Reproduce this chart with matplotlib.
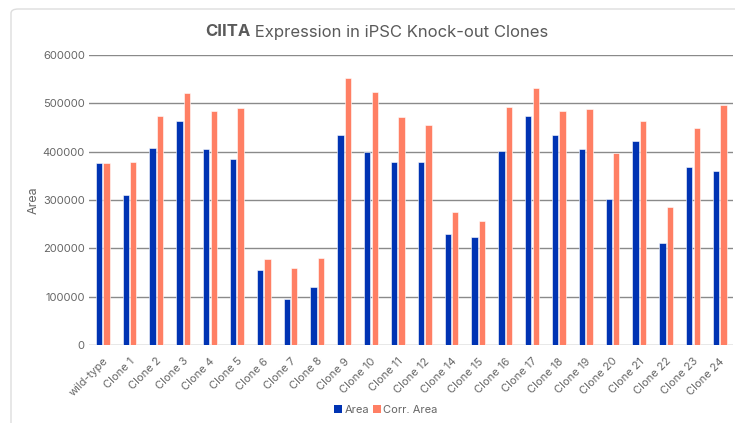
"""
CIITA expression in iPSC knock-out clones: Area vs Corr. Area per clone.
"""

import matplotlib.pyplot as plt
import numpy as np
from matplotlib.patches import FancyBboxPatch, Patch

plt.rcParams["font.family"] = ["Inter", "DejaVu Sans"]

CLONES = [
    "wild-type", "Clone 1", "Clone 2", "Clone 3", "Clone 4", "Clone 5",
    "Clone 6", "Clone 7", "Clone 8", "Clone 9", "Clone 10", "Clone 11",
    "Clone 12", "Clone 14", "Clone 15", "Clone 16", "Clone 17", "Clone 18",
    "Clone 19", "Clone 20", "Clone 21", "Clone 22", "Clone 23", "Clone 24",
]
AREA = [
    376400, 311000, 407300, 463800, 404600, 384600,
    155500, 94300, 120400, 433500, 399800, 379100,
    377700, 230500, 222900, 401800, 473400, 435500,
    404600, 302100, 422500, 210500, 368100, 359200,
]
CORR_AREA = [
    376400, 379100, 474800, 520900, 484400, 489900,
    178900, 160300, 181000, 551800, 522900, 471300,
    454800, 275900, 256000, 491900, 531200, 483700,
    488500, 397700, 463800, 285500, 449300, 497500,
]
Y_TICKS = [0, 100000, 200000, 300000, 400000, 500000, 600000]

BLUE = "#0033b3"
SALMON = "#ff7f64"
TEXT = "#666666"


def main() -> None:
    W, H = 735, 423
    fig = plt.figure(figsize=(W / 100, H / 100), dpi=100)

    # card outline (top-left corner visible, rest runs off the image)
    card = FancyBboxPatch((11 / W, -20 / H), (W + 20 - 11) / W, (H + 20 - 9) / H,
                          boxstyle="round,pad=0,rounding_size=0.01",
                          transform=fig.transFigure, facecolor="white",
                          edgecolor="#dddddd", linewidth=1.0, zorder=-10)
    fig.patches.append(card)

    ax = fig.add_axes([89 / W, 1 - 345 / H, (733 - 89) / W, (345 - 55) / H])
    x = np.arange(len(CLONES))
    w = 0.235
    ax.bar(x - 0.13, AREA, width=w, color=BLUE, edgecolor="white",
           linewidth=0.4, zorder=3, label="Area")
    ax.bar(x + 0.15, CORR_AREA, width=w, color=SALMON, edgecolor="white",
           linewidth=0.4, zorder=3, label="Corr. Area")

    ax.set_xlim(-0.5, len(CLONES) - 0.5)
    ax.set_ylim(0, 600000)
    ax.set_yticks(Y_TICKS)
    ax.set_yticklabels([str(v) for v in Y_TICKS])
    ax.set_xticks(x)
    ax.set_xticklabels(CLONES, rotation=45, ha="right", rotation_mode="anchor")
    ax.tick_params(axis="both", length=0, colors=TEXT, labelsize=8)
    ax.tick_params(axis="y", pad=3)
    ax.tick_params(axis="x", pad=8)
    ax.grid(axis="y", color="#8a8a8a", linewidth=1.0, zorder=0)
    for s in ax.spines.values():
        s.set_visible(False)
    ax.set_ylabel("Area", color=TEXT, fontsize=9, labelpad=2)

    # title: bold gene name followed by regular text
    t1 = fig.text(205 / W, 1 - 32 / H, "CIITA", fontsize=12,
                  fontweight="bold", color="#5a5a5a", ha="left", va="center")
    ax.annotate(" Expression in iPSC Knock-out Clones", xy=(1, 0.5),
                xycoords=t1, fontsize=12, color="#5a5a5a",
                ha="left", va="center", annotation_clip=False)

    handles = [Patch(facecolor=BLUE, label="Area"),
               Patch(facecolor=SALMON, label="Corr. Area")]
    fig.legend(handles=handles, loc="center", ncol=2,
               bbox_to_anchor=(386 / W, 1 - 410 / H), frameon=False,
               fontsize=8, labelcolor=TEXT, handlelength=0.7,
               handleheight=0.7, handletextpad=0.2, columnspacing=0.4)

    fig.savefig("out.png", dpi=100)


if __name__ == "__main__":
    main()
